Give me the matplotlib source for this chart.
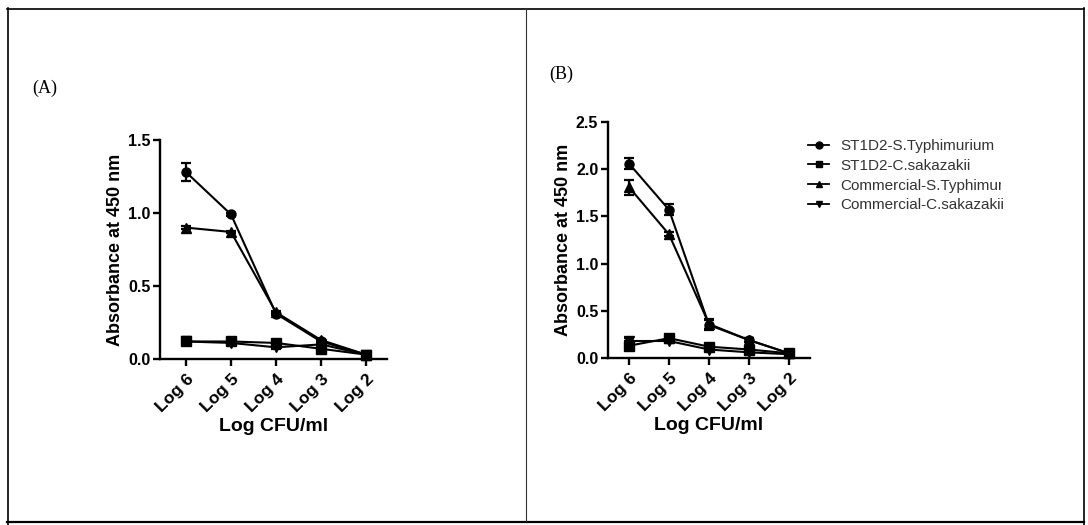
import matplotlib
matplotlib.use("Agg")
import matplotlib.pyplot as plt
from matplotlib.lines import Line2D
from matplotlib.patches import Rectangle

categories = ["Log 6", "Log 5", "Log 4", "Log 3", "Log 2"]
series_names = ["ST1D2-S.Typhimurium", "ST1D2-C.sakazakii",
                "Commercial-S.Typhimurium", "Commercial-C.sakazakii"]
markers = ["o", "s", "^", "v"]

# Panel A values
a_st1d2_typh = [1.28, 0.99, 0.31, 0.12, 0.03]
a_st1d2_sak = [0.12, 0.12, 0.11, 0.07, 0.03]
a_com_typh = [0.90, 0.87, 0.32, 0.13, 0.03]
a_com_sak = [0.12, 0.11, 0.08, 0.10, 0.03]
a_err = [[0.06, 0.01, 0.01, 0.01, 0.0],
         [0.01, 0.01, 0.01, 0.01, 0.0],
         [0.01, 0.01, 0.01, 0.01, 0.0],
         [0.01, 0.01, 0.01, 0.01, 0.0]]

# Panel B values
b_st1d2_typh = [2.06, 1.57, 0.35, 0.19, 0.05]
b_st1d2_sak = [0.13, 0.21, 0.12, 0.09, 0.05]
b_com_typh = [1.81, 1.31, 0.36, 0.19, 0.05]
b_com_sak = [0.18, 0.18, 0.09, 0.06, 0.04]
b_err = [[0.06, 0.06, 0.05, 0.02, 0.01],
         [0.05, 0.02, 0.02, 0.01, 0.01],
         [0.08, 0.02, 0.05, 0.02, 0.01],
         [0.03, 0.02, 0.01, 0.01, 0.01]]

plt.rcParams['font.family'] = ['Liberation Sans', 'DejaVu Sans']

fig = plt.figure(figsize=(10.88, 5.25), dpi=100)
W, H = 1088, 525

def px(x0, y0, x1, y1):
    return [x0 / W, 1 - y1 / H, (x1 - x0) / W, (y1 - y0) / H]

# table borders
def hline(y, x0, x1, lw, c='black'):
    fig.add_artist(Line2D([x0 / W, x1 / W], [1 - y / H, 1 - y / H], lw=lw, color=c, zorder=5))

def vline(x, y0, y1, lw, c='black'):
    fig.add_artist(Line2D([x / W, x / W], [1 - y0 / H, 1 - y1 / H], lw=lw, color=c, zorder=5))

hline(8.5, 7, 1084, 1.2)
hline(521.5, 7, 1084, 1.6)
vline(7.5, 8, 525, 1.2)
vline(1083.5, 8, 525, 1.2)
vline(525.5, 8, 521, 0.8, '#333333')

fig.text(32 / W, 1 - 88 / H, "(A)", family=['Liberation Serif', 'DejaVu Serif'],
         fontsize=13, va='center', ha='left')
fig.text(549 / W, 1 - 74 / H, "(B)", family=['Liberation Serif', 'DejaVu Serif'],
         fontsize=13, va='center', ha='left')

x = list(range(len(categories)))

def style_axes(ax, ylim, yticks, xlim):
    ax.set_xlim(*xlim)
    ax.set_ylim(*ylim)
    ax.set_yticks(yticks)
    ax.set_yticklabels([f"{t:.1f}" for t in yticks], fontsize=11.5, fontweight='bold')
    ax.set_xticks(x)
    ax.set_xticklabels(categories, rotation=45, ha='right', rotation_mode='anchor',
                       fontsize=12.5, fontweight='bold')
    for s in ['top', 'right']:
        ax.spines[s].set_visible(False)
    for s in ['left', 'bottom']:
        ax.spines[s].set_linewidth(1.7)
    ax.tick_params(direction='out', length=5, width=1.7, pad=2)
    ax.tick_params(axis='x', pad=4)
    ax.set_ylabel("Absorbance at 450 nm", fontsize=13, fontweight='bold', labelpad=3)
    ax.set_xlabel("Log CFU/ml", fontsize=14, fontweight='bold', labelpad=2)

axA = fig.add_axes(px(160, 140, 387, 359))
axA.patch.set_alpha(0)
for vals, err, m in zip([a_st1d2_typh, a_st1d2_sak, a_com_typh, a_com_sak], a_err, markers):
    axA.errorbar(x, vals, yerr=err, marker=m, color='black', markersize=6.5, lw=1.5,
                 capsize=3.5, elinewidth=1.6, capthick=1.6, clip_on=False)
style_axes(axA, (0, 1.5), [0.0, 0.5, 1.0, 1.5], (-0.578, 4.467))

axB = fig.add_axes(px(608, 122, 810, 358))
axB.patch.set_alpha(0)
for vals, err, m, name in zip([b_st1d2_typh, b_st1d2_sak, b_com_typh, b_com_sak], b_err,
                              markers, series_names):
    axB.errorbar(x, vals, yerr=err, marker=m, color='black', markersize=6.5, lw=1.5,
                 capsize=3.5, elinewidth=1.6, capthick=1.6, clip_on=False, label=name)
style_axes(axB, (0, 2.5), [0.0, 0.5, 1.0, 1.5, 2.0, 2.5], (-0.525, 4.525))

leg_handles = [Line2D([], [], color='black', marker=m, markersize=5, lw=1.3) for m in markers]
leg = fig.legend(leg_handles, series_names, loc='upper left',
                 bbox_to_anchor=(808 / W, 1 - 139 / H), frameon=False,
                 fontsize=11, handlelength=1.4, handletextpad=0.7, labelspacing=0.38,
                 borderpad=0, borderaxespad=0)
for t in leg.get_texts():
    t.set_color('#333333')

# the third legend label is cut off at the right in the original
fig.add_artist(Rectangle((1001 / W, 1 - 196 / H), 80 / W, 22 / H,
                         facecolor='white', edgecolor='none', zorder=10))

fig.savefig("out.png", dpi=100)
